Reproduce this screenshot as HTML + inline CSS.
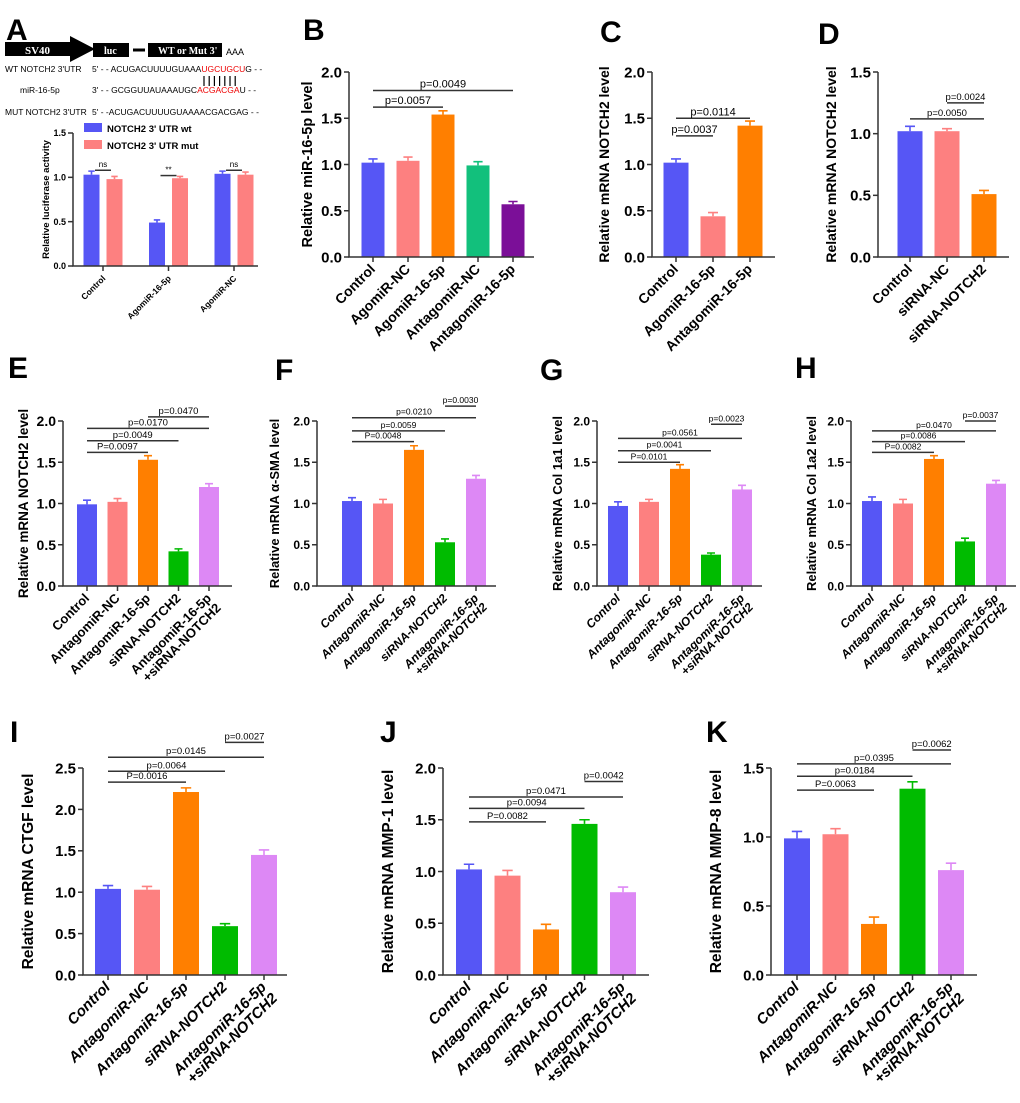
<!DOCTYPE html>
<html><head><meta charset="utf-8">
<style>
html,body{margin:0;padding:0;background:#fff;}
svg{display:block;font-family:"Liberation Sans",Arial,sans-serif;}
.lt{font-weight:bold;font-size:30px;}
</style></head>
<body>
<svg id="fig" width="1020" height="1103" viewBox="0 0 1020 1103" xmlns="http://www.w3.org/2000/svg">
  <text class="lt" x="6" y="40">A</text>
  <text class="lt" x="303" y="40">B</text>
  <text class="lt" x="600" y="42">C</text>
  <text class="lt" x="818" y="44">D</text>
  <text class="lt" x="8" y="378">E</text>
  <text class="lt" x="275" y="380">F</text>
  <text class="lt" x="540" y="380">G</text>
  <text class="lt" x="795" y="378">H</text>
  <text class="lt" x="10" y="742">I</text>
  <text class="lt" x="380" y="742">J</text>
  <text class="lt" x="706" y="742">K</text>

  <g>
    <polygon points="5,42 70,42 70,36 95,49 70,62 70,56 5,56" fill="#000"/>
    <text x="25" y="54" fill="#fff" font-family="Liberation Serif,serif" font-size="11" font-weight="bold">SV40</text>
    <line x1="77" y1="50" x2="90" y2="50" stroke="#000" stroke-width="3"/>
    <rect x="93" y="43" width="36" height="14" fill="#000"/>
    <text x="104" y="54" fill="#fff" font-family="Liberation Serif,serif" font-size="10" font-weight="bold">luc</text>
    <line x1="133" y1="50" x2="145" y2="50" stroke="#000" stroke-width="3"/>
    <rect x="148" y="43" width="74" height="14" fill="#000"/>
    <text x="158" y="54" fill="#fff" font-family="Liberation Serif,serif" font-size="10" font-weight="bold">WT or Mut 3'</text>
    <text x="226" y="55" font-size="9">AAA</text>
  </g>
  <g font-size="8.5">
    <text x="5" y="72">WT NOTCH2 3'UTR</text>
    <text x="92" y="72">5' - - ACUGACUUUUGUAAA<tspan fill="#e00">UGCUGCU</tspan>G - -</text>
    <text x="20" y="93">miR-16-5p</text>
    <text x="92" y="93">3' - - GCGGUUAUAAAUGC<tspan fill="#e00">ACGACGA</tspan>U - -</text>
    <text x="5" y="115">MUT NOTCH2 3'UTR</text>
    <text x="92" y="115">5' - -ACUGACUUUUGUAAAACGACGAG - -</text>
    <g id="pairs" stroke="#000" stroke-width="1.2"></g>
  </g>
</svg>
<script>
// ---------- data ----------
const catsA = ["Control","AgomiR-16-5p","AgomiR-NC"];
const wtA = [1.03,0.49,1.04];
const wtErrA = [0.04,0.03,0.03];
const mutA = [0.98,0.99,1.03];
const mutErrA = [0.03,0.02,0.03];
const sigA = ["ns","**","ns"];

const catsB = ["Control","AgomiR-NC","AgomiR-16-5p","AntagomiR-NC","AntagomiR-16-5p"];
const valsB = [1.02,1.04,1.54,0.99,0.57];
const errsB = [0.04,0.04,0.04,0.04,0.03];
const brB = [[0,2,1.62,"p=0.0057"],[0,4,1.80,"p=0.0049"]];

const catsC = ["Control","AgomiR-16-5p","AntagomiR-16-5p"];
const valsC = [1.02,0.44,1.42];
const errsC = [0.04,0.04,0.05];
const brC = [[0,1,1.31,"p=0.0037"],[0,2,1.50,"p=0.0114"]];

const catsD = ["Control","siRNA-NC","siRNA-NOTCH2"];
const valsD = [1.02,1.02,0.51];
const errsD = [0.04,0.02,0.03];
const brD = [[0,2,1.12,"p=0.0050"],[1,2,1.25,"p=0.0024"]];

const cats5 = ["Control","AntagomiR-NC","AntagomiR-16-5p","siRNA-NOTCH2","AntagomiR-16-5p|+siRNA-NOTCH2"];
const valsE = [0.99,1.02,1.53,0.42,1.20];
const errsE = [0.05,0.04,0.05,0.03,0.04];
const brE = [[0,2,1.62,"P=0.0097"],[0,3,1.76,"p=0.0049"],[0,4,1.91,"p=0.0170"],[2,4,2.05,"p=0.0470"]];
const valsF = [1.03,1.00,1.65,0.53,1.30];
const errsF = [0.04,0.05,0.05,0.04,0.04];
const brF = [[0,2,1.75,"P=0.0048"],[0,3,1.88,"p=0.0059"],[0,4,2.04,"p=0.0210"],[3,4,2.18,"p=0.0030"]];
const valsG = [0.97,1.02,1.42,0.38,1.17];
const errsG = [0.05,0.03,0.05,0.02,0.05];
const brG = [[0,2,1.50,"P=0.0101"],[0,3,1.64,"p=0.0041"],[0,4,1.79,"p=0.0561"],[3,4,1.96,"p=0.0023"]];
const valsH = [1.03,1.00,1.54,0.54,1.24];
const errsH = [0.05,0.05,0.04,0.04,0.04];
const brH = [[0,2,1.62,"P=0.0082"],[0,3,1.75,"p=0.0086"],[0,4,1.88,"p=0.0470"],[3,4,2.00,"p=0.0037"]];
const valsI = [1.04,1.03,2.21,0.59,1.45];
const errsI = [0.04,0.04,0.05,0.03,0.06];
const brI = [[0,2,2.33,"P=0.0016"],[0,3,2.46,"p=0.0064"],[0,4,2.63,"p=0.0145"],[3,4,2.81,"p=0.0027"]];
const valsJ = [1.02,0.96,0.44,1.46,0.80];
const errsJ = [0.05,0.05,0.05,0.04,0.05];
const brJ = [[0,2,1.48,"P=0.0082"],[0,3,1.61,"p=0.0094"],[0,4,1.72,"p=0.0471"],[3,4,1.87,"p=0.0042"]];
const valsK = [0.99,1.02,0.37,1.35,0.76];
const errsK = [0.05,0.04,0.05,0.05,0.05];
const brK = [[0,2,1.34,"P=0.0063"],[0,3,1.44,"p=0.0184"],[0,4,1.53,"p=0.0395"],[3,4,1.63,"p=0.0062"]];

const BLUE="#5656f5",SAL="#fd8080",ORA="#ff7f00",GRN="#00bb00",VIO="#dd88f5",TEAL="#12c07c",PUR="#7b0f98";
const NS="http://www.w3.org/2000/svg";
const svg=document.getElementById('fig');
function mk(tag,attrs,parent){const e=document.createElementNS(NS,tag);for(const k in attrs)e.setAttribute(k,attrs[k]);(parent||svg).appendChild(e);return e;}

const pg=document.getElementById('pairs');
for(let i=0;i<7;i++){const l=mk('line',{x1:204+i*5.2,y1:76,x2:204+i*5.2,y2:86},pg);

}

function panel(o){
  const g=mk('g',{});
  
  
  const y=v=>o.yb-(v/o.max)*(o.yb-o.yt);
  const x=i=>o.first+i*o.step;
  o.series.forEach(s=>{
    s.vals.forEach((v,i)=>{
      const cx=x(i)+(s.off||0);
      const r=mk('rect',{x:cx-o.bw/2,y:y(v),width:o.bw,height:o.yb-y(v),fill:s.colors[i]},g);
      
      
      const ey=y(v+s.errs[i]);
      const eb=mk('path',{d:`M${cx},${y(v)}V${ey}M${cx-o.bw*0.2},${ey}H${cx+o.bw*0.2}`,stroke:s.colors[i],'stroke-width':1.6,fill:'none'},g);
      
      
    });
  });
  const ax=mk('path',{d:`M${o.ox},${o.yt}V${o.yb}H${o.x1}`,stroke:'#333','stroke-width':1.5,fill:'none'},g);
  
  
  for(let t=0;t<=o.max+1e-9;t+=o.tick){
    mk('line',{x1:o.ox-5,y1:y(t),x2:o.ox,y2:y(t),stroke:'#333','stroke-width':1.5},g);
    const tl=mk('text',{x:o.ox-7,y:y(t)+o.tf*0.36,'text-anchor':'end','font-size':o.tf,'font-weight':'bold'},g);
    tl.textContent=t.toFixed(1);
    
    
  }
  o.cats.forEach((c,i)=>{
    mk('line',{x1:x(i),y1:o.yb,x2:x(i),y2:o.yb+5,stroke:'#333','stroke-width':1.5},g);
    const lines=c.split('|');
    const tx=x(i)+3, ty=o.yb+13;
    const t=mk('text',{transform:`translate(${tx},${ty}) rotate(-45)`,'text-anchor':'end','font-size':o.lf,'font-weight':'bold','font-style':o.it?'italic':'normal'},g);
    lines.forEach((ln,k)=>{const ts=mk('tspan',{x:0,dy:k?o.lf*1.05:0},t);ts.textContent=ln;});
    
    
  });
  const yt=mk('text',{transform:`translate(${o.ox-o.td},${(o.yt+o.yb)/2}) rotate(-90)`,'text-anchor':'middle','font-size':o.yf,'font-weight':'bold'},g);
  yt.innerHTML=o.title;
  
  
  (o.br||[]).forEach(b=>{
    const x0=x(b[0])+(b[4]||0), x1=x(b[1])+(b[5]||0), yy=y(b[2]);
    const l=mk('line',{x1:x0,y1:yy,x2:x1,y2:yy,stroke:'#333','stroke-width':1.5},g);
    
    
    const t=mk('text',{x:(x0+x1)/2,y:yy-3,'text-anchor':'middle','font-size':o.pf},g);
    t.textContent=b[3];
    
    
  });
  return g;
}

panel({name:'chart-a',ox:73,x1:258,yt:133,yb:266,max:1.5,tick:0.5,first:103,step:65.5,bw:16,cats:catsA,
  series:[{vals:wtA,errs:wtErrA,off:-11.5,colors:[BLUE,BLUE,BLUE]},{vals:mutA,errs:mutErrA,off:11.5,colors:[SAL,SAL,SAL]}],
  tf:9,lf:8.5,yf:9.5,td:24,title:'Relative luciferase activity',pf:8,
  br:sigA.map((s,i)=>[i,i,s=="**"?1.02:1.08,s,-8,8])});
[[BLUE,'NOTCH2 3\' UTR wt',129],[SAL,'NOTCH2 3\' UTR mut',146]].forEach(l=>{
  const r=mk('rect',{x:84,y:l[2]-6,width:18,height:9,fill:l[0]});
  
  
  const t=mk('text',{x:107,y:l[2]+3,'font-size':9.5,'font-weight':'bold'});
  t.textContent=l[1];
  
  
});

panel({name:'chart-b',ox:349,x1:534,yt:72,yb:257,max:2,tick:0.5,first:373,step:35,bw:23,cats:catsB,
  series:[{vals:valsB,errs:errsB,colors:[BLUE,SAL,ORA,TEAL,PUR]}],tf:15,lf:14,yf:14.5,td:37,title:'Relative miR-16-5p level',pf:11,br:brB});
panel({name:'chart-c',ox:652,x1:775,yt:72,yb:257,max:2,tick:0.5,first:676,step:37,bw:25,cats:catsC,
  series:[{vals:valsC,errs:errsC,colors:[BLUE,SAL,ORA]}],tf:15,lf:14,yf:14,td:43,title:'Relative mRNA NOTCH2 level',pf:11,br:brC});
panel({name:'chart-d',ox:878,x1:1009,yt:72,yb:257,max:1.5,tick:0.5,first:910,step:37,bw:25,cats:catsD,
  series:[{vals:valsD,errs:errsD,colors:[BLUE,SAL,ORA]}],tf:15,lf:14,yf:14,td:42,title:'Relative mRNA NOTCH2 level',pf:9.5,br:brD});

const C5=[BLUE,SAL,ORA,GRN,VIO];
panel({name:'chart-e',ox:63,x1:232,yt:421,yb:586,max:2,tick:0.5,first:87,step:30.5,bw:20,cats:cats5,
  series:[{vals:valsE,errs:errsE,colors:C5}],tf:14,lf:13,yf:13.5,td:35,title:'Relative mRNA NOTCH2 level',pf:9.5,br:brE});
panel({name:'chart-f',ox:317,x1:496,yt:421,yb:586,max:2,tick:0.5,first:352,step:31,bw:20,cats:cats5,it:true,
  series:[{vals:valsF,errs:errsF,colors:C5}],tf:12,lf:12,yf:13,td:38,title:'Relative mRNA &#945;-SMA level',pf:8.5,br:brF});
panel({name:'chart-g',ox:597,x1:762,yt:421,yb:586,max:2,tick:0.5,first:618,step:31,bw:20,cats:cats5,it:true,
  series:[{vals:valsG,errs:errsG,colors:C5}],tf:12,lf:12,yf:13,td:35,title:'Relative mRNA Col 1a1 level',pf:8.5,br:brG});
panel({name:'chart-h',ox:851,x1:1016,yt:421,yb:586,max:2,tick:0.5,first:872,step:31,bw:20,cats:cats5,it:true,
  series:[{vals:valsH,errs:errsH,colors:C5}],tf:12,lf:12,yf:13,td:35,title:'Relative mRNA Col 1a2 level',pf:8.5,br:brH});

panel({name:'chart-i',ox:83,x1:287,yt:768,yb:975,max:2.5,tick:0.5,first:108,step:39,bw:26,cats:cats5,it:true,
  series:[{vals:valsI,errs:errsI,colors:C5}],tf:15,lf:15,yf:15.5,td:50,title:'Relative mRNA CTGF level',pf:9.5,br:brI});
panel({name:'chart-j',ox:443,x1:649,yt:768,yb:975,max:2,tick:0.5,first:469,step:38.5,bw:26,cats:cats5,it:true,
  series:[{vals:valsJ,errs:errsJ,colors:C5}],tf:15,lf:15,yf:15.5,td:50,title:'Relative mRNA MMP-1 level',pf:9.5,br:brJ});
panel({name:'chart-k',ox:771,x1:977,yt:768,yb:975,max:1.5,tick:0.5,first:797,step:38.5,bw:26,cats:cats5,it:true,
  series:[{vals:valsK,errs:errsK,colors:C5}],tf:15,lf:15,yf:15.5,td:50,title:'Relative mRNA MMP-8 level',pf:9.5,br:brK});
</script>
</body></html>
